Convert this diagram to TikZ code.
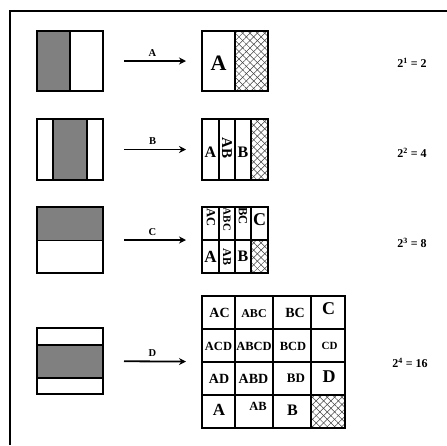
\documentclass[tikz,border=0pt]{standalone}
\usepackage{fontspec}
\setmainfont{Liberation Serif}
\usetikzlibrary{arrows.meta,patterns.meta}
\definecolor{shadegray}{RGB}{128,128,128}
\tikzset{
  box/.style={draw, line width=1.2pt, inner sep=0pt, outer sep=0pt},
  div/.style={line width=1.2pt},
  shd/.style={fill=shadegray},
  hatch/.style={pattern={Lines[angle=45,distance=5.2pt,line width=0.5pt]}, pattern color=black!75},
  hatchb/.style={pattern={Lines[angle=-45,distance=5.2pt,line width=0.5pt]}, pattern color=black!75},
  arr/.style={line width=1.8pt, -{Stealth[length=7pt,width=7pt]}, shorten <=21pt, shorten >=16pt},
  lbl/.style={font=\bfseries, inner sep=0pt},
  albl/.style={font=\bfseries\fontsize{10.5}{10.5}\selectfont, inner sep=0pt, above=4pt},
  eqn/.style={font=\bfseries\fontsize{12}{12}\selectfont, inner sep=0pt},
}
\newcommand{\fs}[1]{\fontsize{#1}{#1}\selectfont}
\begin{document}
\begin{tikzpicture}[x=1pt,y=-1pt]
\useasboundingbox (0,0) rectangle (447,445);
% frame
\draw[line width=2pt] (10,445) -- (10,11) -- (447,11);

% ---------- Row 1 ----------
\fill[shd] (37,31) rectangle (70,91);
\node[box, minimum width=66pt, minimum height=60pt] (L1) at (70,61) {};
\draw[div] (70,31) -- (70,91);
\fill[hatch] (235,31) rectangle (268,91);
\fill[hatchb] (235,31) rectangle (268,91);
\node[box, minimum width=66pt, minimum height=60pt] (R1) at (235,61) {};
\draw[div] (235,31) -- (235,91);
\node[lbl, font=\bfseries\fs{22}] (t1A) at (218.5,63) {A};
\draw[arr] (L1) -- node[albl] (a1) {A} (R1);
\node[eqn] (e1) at (412,63) {2\textsuperscript{1} = 2};

% ---------- Row 2 ----------
\fill[shd] (53,119) rectangle (87,180);
\node[box, minimum width=66pt, minimum height=61pt] (L2) at (70,149.5) {};
\draw[div] (53,119) -- (53,180);
\draw[div] (87,119) -- (87,180);
\fill[hatch] (251,119) rectangle (268,180);
\fill[hatchb] (251,119) rectangle (268,180);
\node[box, minimum width=66pt, minimum height=61pt] (R2) at (235,149.5) {};
\foreach \xx in {219,235,251} \draw[div] (\xx,119) -- (\xx,180);
\node[lbl, font=\bfseries\fs{16}] (t2A) at (210.5,152.5) {A};
\node[lbl, font=\bfseries\fs{15}, rotate=-90] (t2AB) at (227,148) {AB};
\node[lbl, font=\bfseries\fs{16}] (t2B) at (243,152.5) {B};
\draw[arr] (L2) -- node[albl] (a2) {B} (R2);
\node[eqn] (e2) at (412,153) {2\textsuperscript{2} = 4};

% ---------- Row 3 ----------
\fill[shd] (37,207) rectangle (103,240.5);
\node[box, minimum width=66pt, minimum height=66pt] (L3) at (70,240) {};
\draw[div] (37,240.5) -- (103,240.5);
\fill[hatch] (251,240) rectangle (268,273);
\fill[hatchb] (251,240) rectangle (268,273);
\node[box, minimum width=66pt, minimum height=66pt] (R3) at (235,240) {};
\foreach \xx in {219,235,251} \draw[div] (\xx,207) -- (\xx,273);
\draw[div] (202,240) -- (268,240);
\node[lbl, font=\bfseries\fs{12.5}, rotate=-90] (t3AC) at (211,217.5) {AC};
\node[lbl, font=\bfseries\fs{11}, rotate=-90] (t3ABC) at (227,219.5) {ABC};
\node[lbl, font=\bfseries\fs{12.5}, rotate=-90] (t3BC) at (243,216) {BC};
\node[lbl, font=\bfseries\fs{18}] (t3C) at (259.5,220) {C};
\node[lbl, font=\bfseries\fs{17}] (t3A) at (210.5,256.5) {A};
\node[lbl, font=\bfseries\fs{12}, rotate=-90] (t3AB) at (227,257) {AB};
\node[lbl, font=\bfseries\fs{16}] (t3B) at (243,256.5) {B};
\draw[arr] (L3) -- node[albl] (a3) {C} (R3);
\node[eqn] (e3) at (412,243) {2\textsuperscript{3} = 8};

% ---------- Row 4 ----------
\fill[shd] (37,345) rectangle (103,378);
\node[box, minimum width=66pt, minimum height=66pt] (L4) at (70,361) {};
\draw[div] (37,345) -- (103,345);
\draw[div] (37,378) -- (103,378);
\fill[hatch] (311,395) rectangle (345,428);
\fill[hatchb] (311,395) rectangle (345,428);
\node[box, minimum width=143pt, minimum height=132pt] (R4) at (273.5,362) {};
\foreach \xx in {235,273,311} \draw[div] (\xx,296) -- (\xx,428);
\foreach \yy in {329,362,395} \draw[div] (202,\yy) -- (345,\yy);
% grid row 1
\node[lbl, font=\bfseries\fs{14}] (g11) at (219.5,313) {AC};
\node[lbl, font=\bfseries\fs{12}] (g12) at (254,314) {ABC};
\node[lbl, font=\bfseries\fs{14}] (g13) at (295,313) {BC};
\node[lbl, font=\bfseries\fs{18}] (g14) at (328.5,309) {C};
% grid row 2
\node[lbl, font=\bfseries\fs{12.5}] (g21) at (218.5,346) {ACD};
\node[lbl, font=\bfseries\fs{12.5}] (g22) at (254,346) {ABCD};
\node[lbl, font=\bfseries\fs{12.5}] (g23) at (293,346) {BCD};
\node[lbl, font=\bfseries\fs{11}] (g24) at (329.5,346) {CD};
% grid row 3
\node[lbl, font=\bfseries\fs{14}] (g31) at (219,378.5) {AD};
\node[lbl, font=\bfseries\fs{14}] (g32) at (253.5,378.5) {ABD};
\node[lbl, font=\bfseries\fs{13}] (g33) at (296,378.5) {BD};
\node[lbl, font=\bfseries\fs{18}] (g34) at (329,376.5) {D};
% grid row 4
\node[lbl, font=\bfseries\fs{17}] (g41) at (219,410) {A};
\node[lbl, font=\bfseries\fs{12.5}] (g42) at (258,406) {AB};
\node[lbl, font=\bfseries\fs{16}] (g43) at (292.5,410) {B};
\draw[arr] (L4) -- node[albl] (a4) {D} (R4);
\node[eqn] (e4) at (410,363) {2\textsuperscript{4} = 16};
\end{tikzpicture}
\end{document}
